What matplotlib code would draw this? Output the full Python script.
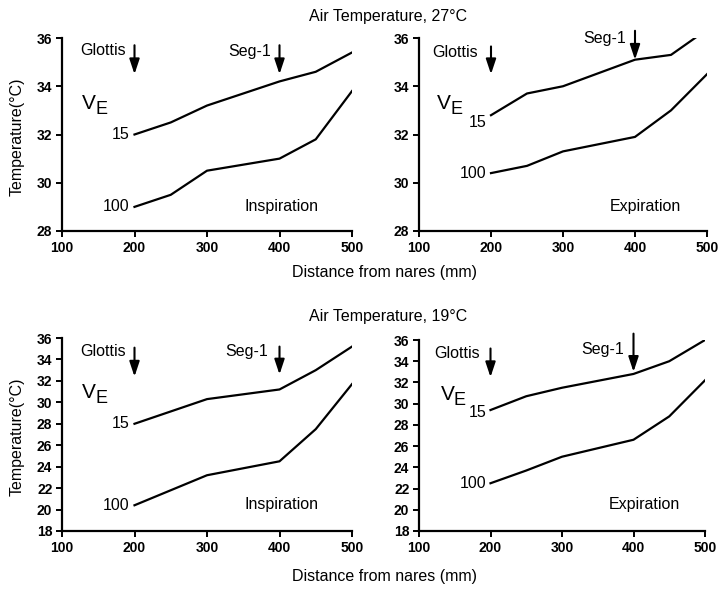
import matplotlib
matplotlib.use("Agg")
import matplotlib.pyplot as plt

plt.rcParams['font.family'] = ['Liberation Sans', 'DejaVu Sans']

# ---- data ----
x_27_insp_15 = [200, 250, 300, 400, 450, 500]
y_27_insp_15 = [32.0, 32.5, 33.2, 34.2, 34.6, 35.4]
x_27_insp_100 = [200, 250, 300, 400, 450, 500]
y_27_insp_100 = [29.0, 29.5, 30.5, 31.0, 31.8, 33.8]

x_27_exp_15 = [200, 250, 300, 400, 450, 500]
y_27_exp_15 = [32.8, 33.7, 34.0, 35.1, 35.3, 36.35]
x_27_exp_100 = [200, 250, 300, 400, 450, 500]
y_27_exp_100 = [30.4, 30.7, 31.3, 31.9, 33.0, 34.5]

x_19_insp_15 = [200, 300, 400, 450, 500]
y_19_insp_15 = [28.0, 30.3, 31.2, 33.0, 35.2]
x_19_insp_100 = [200, 300, 400, 450, 500]
y_19_insp_100 = [20.4, 23.2, 24.5, 27.5, 31.7]

x_19_exp_15 = [200, 250, 300, 400, 450, 500]
y_19_exp_15 = [29.4, 30.7, 31.5, 32.8, 34.0, 36.0]
x_19_exp_100 = [200, 250, 300, 400, 450, 500]
y_19_exp_100 = [22.5, 23.7, 25.0, 26.6, 28.8, 32.2]

x_ticks = [100, 200, 300, 400, 500]
y_ticks_27 = [28, 30, 32, 34, 36]
y_ticks_19 = [18, 20, 22, 24, 26, 28, 30, 32, 34, 36]

titles = ["Air Temperature, 27\u00b0C", "Air Temperature, 19\u00b0C"]
xlabel = "Distance from nares (mm)"
ylabel = "Temperature(\u00b0C)"

fig = plt.figure(figsize=(7.26, 5.91), dpi=100)
W, H = 726, 591

def axes_px(l, r, t, b):
    return fig.add_axes([l / W, 1 - b / H, (r - l) / W, (b - t) / H])

ax_tl = axes_px(62, 352, 38, 231)
ax_tr = axes_px(419, 707, 38, 231)
ax_bl = axes_px(62, 352, 338, 531)
ax_br = axes_px(419, 705, 340, 531)

FS_TICK = 10
FS_ANN = 11.5
FS_NUM = 11.5
FS_LAB = 11.5

def style(ax, yticks):
    ax.set_xlim(100, 500)
    ax.set_ylim(yticks[0], yticks[-1])
    ax.set_xticks(x_ticks)
    ax.set_yticks(yticks)
    for s in ['top', 'right']:
        ax.spines[s].set_visible(False)
    for s in ['left', 'bottom']:
        ax.spines[s].set_linewidth(1.6)
    ax.tick_params(direction='out', length=4.5, width=1.4, labelsize=FS_TICK, pad=2.5)
    for lab in ax.get_xticklabels() + ax.get_yticklabels():
        lab.set_fontweight('bold')

def arrow(ax, x, y0, y1):
    ax.annotate('', xy=(x, y1), xytext=(x, y0), xycoords='data',
                arrowprops=dict(arrowstyle='-|>,head_width=0.3,head_length=0.9',
                                color='black', lw=1.5, shrinkA=0, shrinkB=0),
                annotation_clip=False)

def ve(ax, x, y):
    ax.text(x, y, 'V', fontsize=15, ha='left', va='center')
    ax.annotate('E', xy=(x, y), xytext=(9.5, -4.5), textcoords='offset points',
                fontsize=13, ha='left', va='center')

lw = 1.6
# Top-left
ax = ax_tl
style(ax, y_ticks_27)
ax.plot(x_27_insp_15, y_27_insp_15, color='black', lw=lw)
ax.plot(x_27_insp_100, y_27_insp_100, color='black', lw=lw)
ax.text(188, 35.5, 'Glottis', fontsize=FS_ANN, ha='right', va='center')
arrow(ax, 200, 35.7, 34.5)
ax.text(388, 35.45, 'Seg-1', fontsize=FS_ANN, ha='right', va='center')
arrow(ax, 400, 35.7, 34.5)
ve(ax, 128, 33.3)
ax.text(193, 32.0, '15', fontsize=FS_NUM, ha='right', va='center')
ax.text(193, 29.0, '100', fontsize=FS_NUM, ha='right', va='center')
ax.text(403, 29.0, 'Inspiration', fontsize=FS_NUM, ha='center', va='center')

# Top-right
ax = ax_tr
style(ax, y_ticks_27)
ax.plot(x_27_exp_15, y_27_exp_15, color='black', lw=lw, clip_on=True)
ax.plot(x_27_exp_100, y_27_exp_100, color='black', lw=lw)
ax.text(182, 35.4, 'Glottis', fontsize=FS_ANN, ha='right', va='center')
arrow(ax, 200, 35.65, 34.5)
ax.text(387, 36.0, 'Seg-1', fontsize=FS_ANN, ha='right', va='center')
arrow(ax, 400, 36.3, 35.1)
ve(ax, 125, 33.3)
ax.text(194, 32.5, '15', fontsize=FS_NUM, ha='right', va='center')
ax.text(194, 30.4, '100', fontsize=FS_NUM, ha='right', va='center')
ax.text(414, 29.0, 'Expiration', fontsize=FS_NUM, ha='center', va='center')

# Bottom-left
ax = ax_bl
style(ax, y_ticks_19)
ax.plot(x_19_insp_15, y_19_insp_15, color='black', lw=lw)
ax.plot(x_19_insp_100, y_19_insp_100, color='black', lw=lw)
ax.text(188, 34.7, 'Glottis', fontsize=FS_ANN, ha='right', va='center')
arrow(ax, 200, 35.1, 32.4)
ax.text(384, 34.7, 'Seg-1', fontsize=FS_ANN, ha='right', va='center')
arrow(ax, 400, 35.2, 32.6)
ve(ax, 128, 30.9)
ax.text(193, 28.0, '15', fontsize=FS_NUM, ha='right', va='center')
ax.text(193, 20.4, '100', fontsize=FS_NUM, ha='right', va='center')
ax.text(403, 20.5, 'Inspiration', fontsize=FS_NUM, ha='center', va='center')

# Bottom-right
ax = ax_br
style(ax, y_ticks_19)
ax.plot(x_19_exp_15, y_19_exp_15, color='black', lw=lw)
ax.plot(x_19_exp_100, y_19_exp_100, color='black', lw=lw)
ax.text(185, 34.7, 'Glottis', fontsize=FS_ANN, ha='right', va='center')
arrow(ax, 200, 35.2, 32.5)
ax.text(387, 35.1, 'Seg-1', fontsize=FS_ANN, ha='right', va='center')
arrow(ax, 400, 36.6, 33.0)
ve(ax, 130, 30.9)
ax.text(194, 29.2, '15', fontsize=FS_NUM, ha='right', va='center')
ax.text(194, 22.5, '100', fontsize=FS_NUM, ha='right', va='center')
ax.text(415, 20.5, 'Expiration', fontsize=FS_NUM, ha='center', va='center')

# Titles, axis labels
fig.text(388 / W, 1 - 17 / H, titles[0], fontsize=FS_LAB, ha='center', va='center')
fig.text(388 / W, 1 - 317 / H, titles[1], fontsize=FS_LAB, ha='center', va='center')
fig.text(385 / W, 1 - 273 / H, xlabel, fontsize=FS_LAB, ha='center', va='center')
fig.text(385 / W, 1 - 577 / H, xlabel, fontsize=FS_LAB, ha='center', va='center')
fig.text(17 / W, 1 - 137 / H, ylabel, fontsize=FS_LAB, ha='center', va='center', rotation=90)
fig.text(17 / W, 1 - 437 / H, ylabel, fontsize=FS_LAB, ha='center', va='center', rotation=90)

fig.savefig('out.png', dpi=100)
